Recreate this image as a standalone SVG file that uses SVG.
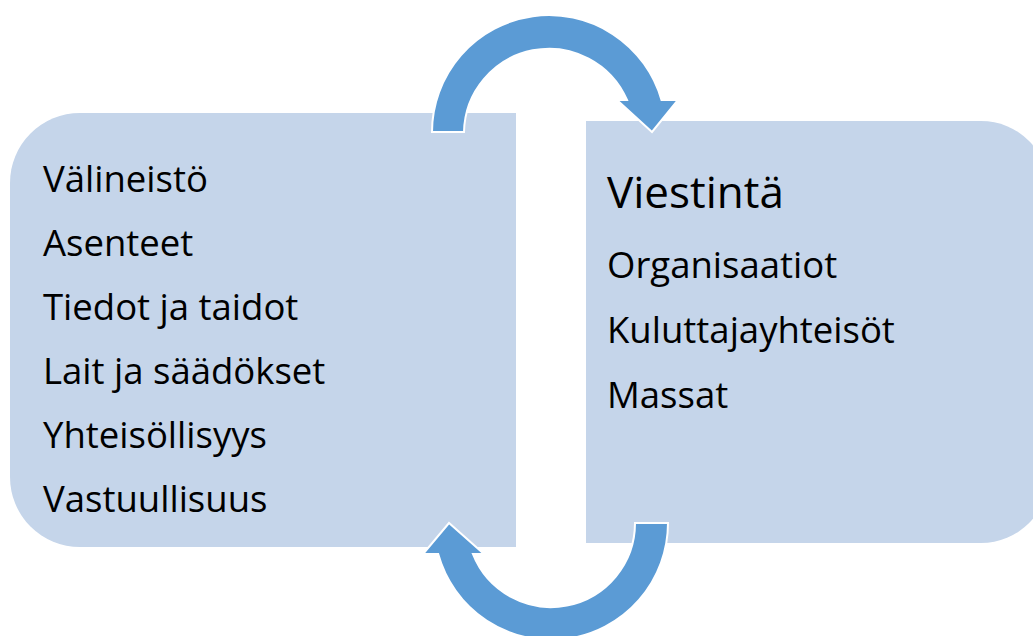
<svg xmlns="http://www.w3.org/2000/svg" width="1033" height="636" viewBox="0 0 1033 636">
<style>
.box{fill:#C5D5EA}
.arrow{fill:#5B9BD5;stroke:#FFFFFF;stroke-width:2;stroke-linejoin:miter}
.t{font-family:"Open Sans",Lato,"Liberation Sans",sans-serif;font-size:36.5px;fill:#000}
.h{font-size:44px}
</style>
<rect width="1033" height="636" fill="#FFFFFF"/>
<g id="left-box">
<path class="box" d="M516,113 V547 H80 A70,70 0 0 1 10,477 V183 A70,70 0 0 1 80,113 Z"/>
<text class="t" x="43" y="192">Välineistö</text>
<text class="t" x="43" y="256">Asenteet</text>
<text class="t" x="43" y="320">Tiedot ja taidot</text>
<text class="t" x="43" y="384">Lait ja säädökset</text>
<text class="t" x="43" y="448">Yhteisöllisyys</text>
<text class="t" x="43" y="512">Vastuullisuus</text>
</g>
<g id="right-box">
<path class="box" d="M586,121 H981 A68,68 0 0 1 1049,189 V475 A68,68 0 0 1 981,543 H586 Z"/>
<text class="t h" x="607" y="208">Viestintä</text>
<text class="t" x="607" y="278">Organisaatiot</text>
<text class="t" x="607" y="343">Kuluttajayhteisöt</text>
<text class="t" x="607" y="408">Massat</text>
</g>
<g id="connectors">
<path class="arrow" d="M432,132 A117,117 0 0 1 661.5,100 L678,100 L652,132 L617,100 L627,100 A85,85 0 0 0 464,132 Z"/>
<path class="arrow" d="M668,523 A117,117 0 0 1 438.2,554 L423,554 L449,523 L484,554 L472.9,554 A84,84 0 0 0 635,523 Z"/>
</g>
</svg>
